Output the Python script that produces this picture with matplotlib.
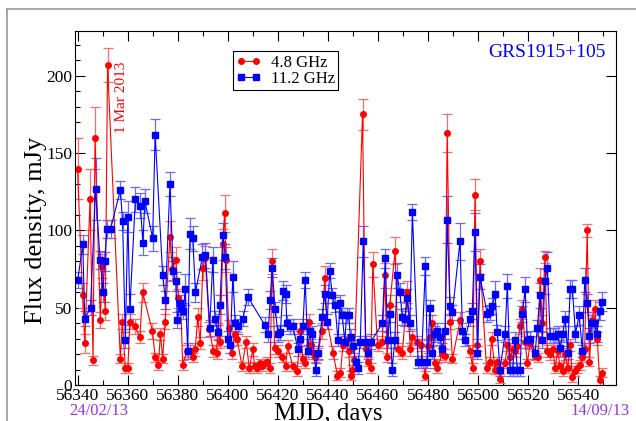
import numpy as np
from matplotlib import pyplot as plt
from matplotlib.ticker import MultipleLocator
from matplotlib.lines import Line2D

plt.rcParams['font.family'] = ['Liberation Serif', 'DejaVu Serif']

# 4.8 GHz  (MJD, flux in mJy, error)
mjd_48 = [56340.0, 56342.0, 56342.9, 56345.0, 56346.2, 56347.0, 56349.1, 56349.9, 56351.1, 56352.0,
          56357.1, 56357.9, 56359.1, 56360.1, 56360.9, 56362.9, 56364.9, 56366.0, 56369.9, 56371.0,
          56372.3, 56373.1, 56374.0, 56375.0, 56376.9, 56377.9, 56379.2, 56380.3, 56381.2, 56382.0,
          56383.7, 56384.9, 56386.0, 56387.0, 56388.0, 56389.0, 56390.0, 56391.0, 56392.7, 56394.2,
          56395.5, 56396.0, 56397.0, 56398.0, 56398.7, 56399.3, 56400.4, 56401.6, 56402.7, 56403.7,
          56405.7, 56407.3, 56408.6, 56410.0, 56410.7, 56411.7, 56412.7, 56413.6, 56414.7, 56415.6,
          56416.9, 56417.7, 56418.7, 56420.0, 56421.7, 56423.1, 56423.9, 56426.0, 56427.7, 56429.0,
          56430.0, 56431.0, 56432.3, 56433.2, 56433.9, 56434.9, 56436.0, 56437.6, 56438.7, 56439.7,
          56442.0, 56443.8, 56445.0, 56446.0, 56447.4, 56448.2, 56449.0, 56449.7, 56450.5, 56453.8,
          56455.0, 56455.8, 56457.1, 56457.9, 56459.8, 56461.7, 56462.7, 56463.6, 56464.7, 56466.8,
          56468.0, 56469.7, 56471.6, 56472.9, 56473.7, 56475.7, 56477.0, 56478.8, 56480.0, 56480.9,
          56481.7, 56482.7, 56483.7, 56485.6, 56486.7, 56487.6, 56488.8, 56489.7, 56492.8, 56496.7,
          56497.8, 56498.7, 56499.7, 56500.7, 56503.3, 56504.7, 56505.3, 56506.7, 56507.6, 56508.7,
          56510.7, 56511.6, 56512.7, 56513.7, 56514.7, 56515.6, 56516.7, 56517.6, 56518.7, 56519.6,
          56520.7, 56522.7, 56523.8, 56524.7, 56525.6, 56526.6, 56527.6, 56528.7, 56529.7, 56530.7,
          56531.7, 56532.7, 56533.7, 56534.7, 56535.7, 56536.7, 56537.6, 56538.7, 56539.6, 56540.7,
          56541.6, 56542.5, 56543.5, 56544.4, 56545.4, 56546.5, 56547.5, 56548.5, 56549.6]
flux_48 = [140, 58, 27, 120, 16, 160, 42, 77, 48, 207,
           17, 41, 11, 11, 41, 38, 31, 60, 35, 18,
           13, 33, 17, 41, 96, 75, 81, 56, 52, 13,
           22, 22, 18, 23, 44, 27, 76, 82, 36, 22,
           21, 35, 28, 91, 111, 81, 37, 21, 33, 30,
           12, 28, 11, 23, 12, 11, 14, 12, 14, 15,
           11, 80, 24, 22, 18, 12, 25, 12, 9, 35,
           17, 14, 41, 26, 21, 18, 20, 35, 69, 41,
           21, 6, 8, 26, 29, 22, 6, 10, 16, 175,
           23, 15, 11, 78, 26, 28, 71, 18, 52, 87,
           23, 21, 60, 23, 31, 28, 26, 6, 25, 31,
           40, 14, 11, 20, 19, 163, 41, 17, 42, 22,
           11, 123, 26, 80, 11, 15, 30, 10, 15, 4,
           14, 26, 18, 23, 22, 25, 38, 49, 28, 14,
           27, 19, 18, 68, 40, 83, 22, 20, 23, 11,
           22, 12, 9, 20, 11, 26, 5, 9, 11, 13,
           18, 23, 100, 15, 42, 49, 30, 3, 8]
err_48 = [20, 8, 6, 20, 3, 20, 5, 8, 6, 11,
          3, 5, 3, 3, 5, 5, 4, 6, 5, 3,
          3, 4, 3, 5, 10, 8, 8, 6, 6, 3,
          4, 4, 3, 4, 6, 4, 8, 8, 5, 4,
          4, 5, 4, 10, 12, 8, 5, 4, 5, 4,
          3, 4, 3, 4, 3, 3, 3, 3, 3, 3,
          3, 8, 4, 4, 3, 3, 4, 3, 3, 5,
          3, 3, 5, 4, 4, 3, 4, 5, 8, 5,
          4, 3, 3, 4, 4, 4, 3, 3, 3, 10,
          4, 3, 3, 8, 4, 4, 8, 3, 6, 9,
          4, 4, 7, 4, 5, 4, 4, 3, 4, 5,
          5, 3, 3, 4, 4, 12, 5, 3, 5, 4,
          3, 10, 4, 8, 3, 3, 4, 3, 3, 3,
          3, 4, 3, 4, 4, 4, 5, 6, 4, 3,
          4, 3, 3, 8, 5, 4, 4, 4, 4, 3,
          4, 3, 3, 4, 3, 4, 3, 3, 3, 3,
          3, 4, 4, 3, 5, 6, 4, 3, 3]

# 11.2 GHz
mjd_112 = [56340.1, 56342.1, 56342.9, 56345.2, 56347.2, 56349.0, 56350.2, 56350.8, 56351.8, 56353.2,
           56357.1, 56358.0, 56359.1, 56360.1, 56360.9, 56363.1, 56365.1, 56366.1, 56366.9, 56370.0,
           56371.0, 56374.0, 56375.1, 56376.9, 56378.2, 56379.2, 56379.9, 56380.8, 56381.5, 56382.3,
           56383.0, 56384.0, 56384.9, 56386.0, 56387.1, 56389.9, 56391.1, 56392.8, 56394.0, 56394.9,
           56396.0, 56396.9, 56398.0, 56399.0, 56400.0, 56401.0, 56402.0, 56403.0, 56404.0, 56406.0,
           56408.0, 56414.7, 56416.1, 56416.9, 56417.7, 56418.9, 56420.1, 56421.0, 56422.0, 56423.1,
           56423.6, 56425.0, 56426.0, 56428.0, 56429.0, 56430.0, 56430.9, 56432.0, 56432.7, 56433.7,
           56435.1, 56436.0, 56437.7, 56438.7, 56439.7, 56440.7, 56441.7, 56442.8, 56444.0, 56444.8,
           56445.7, 56446.7, 56447.4, 56448.2, 56449.0, 56450.0, 56451.1, 56451.9, 56452.9, 56454.1,
           56455.1, 56455.8, 56457.2, 56461.7, 56462.9, 56463.8, 56464.7, 56465.6, 56466.7, 56467.6,
           56468.7, 56469.7, 56470.7, 56471.7, 56472.7, 56473.7, 56476.0, 56477.3, 56478.9, 56479.7,
           56480.7, 56481.7, 56482.7, 56483.7, 56484.7, 56485.7, 56486.8, 56487.6, 56488.7, 56489.7,
           56492.7, 56493.7, 56494.7, 56496.7, 56497.6, 56498.7, 56499.7, 56500.7, 56503.6, 56504.7,
           56505.6, 56506.7, 56507.6, 56508.7, 56510.7, 56511.6, 56512.7, 56513.7, 56514.7, 56515.6,
           56516.7, 56517.6, 56518.7, 56519.6, 56520.7, 56522.7, 56523.6, 56524.6, 56525.6, 56526.6,
           56527.6, 56528.7, 56529.7, 56530.7, 56531.7, 56532.7, 56533.7, 56534.7, 56535.7, 56536.7,
           56537.6, 56538.8, 56540.3, 56541.6, 56542.5, 56543.5, 56544.4, 56545.4, 56546.4, 56547.3,
           56548.7, 56549.6]
flux_112 = [68, 91, 43, 50, 127, 81, 60, 80, 101, 101,
            126, 106, 29, 109, 49, 120, 116, 92, 119, 95,
            162, 71, 55, 130, 74, 67, 42, 53, 50, 48,
            62, 22, 98, 95, 60, 83, 84, 37, 81, 43,
            34, 52, 97, 83, 30, 26, 70, 40, 38, 43,
            57, 39, 33, 55, 76, 49, 33, 34, 61, 59,
            40, 38, 38, 23, 30, 38, 68, 22, 35, 33,
            10, 21, 44, 59, 41, 74, 58, 52, 29, 53,
            45, 28, 45, 45, 31, 25, 15, 11, 28, 93,
            28, 21, 28, 40, 82, 29, 46, 10, 29, 71,
            60, 44, 43, 56, 40, 112, 15, 15, 77, 15,
            50, 21, 33, 35, 31, 23, 35, 107, 51, 47,
            93, 35, 29, 43, 48, 99, 21, 70, 46, 47,
            51, 59, 34, 10, 33, 64, 10, 10, 29, 10,
            10, 46, 62, 29, 30, 21, 37, 58, 29, 67,
            76, 32, 32, 32, 33, 24, 33, 43, 21, 62,
            62, 33, 45, 22, 68, 53, 32, 40, 40, 33,
            48, 54]
err_112 = [5, 6, 5, 5, 20, 6, 6, 6, 6, 6,
           6, 6, 5, 10, 10, 8, 8, 8, 8, 8,
           10, 6, 6, 8, 6, 6, 5, 5, 5, 5,
           10, 5, 10, 8, 6, 8, 8, 5, 8, 5,
           5, 6, 8, 8, 5, 5, 10, 5, 5, 5,
           5, 5, 5, 6, 6, 5, 5, 5, 6, 6,
           5, 5, 5, 4, 5, 5, 5, 4, 5, 5,
           4, 4, 5, 6, 5, 5, 5, 5, 4, 5,
           5, 4, 5, 5, 5, 4, 4, 4, 4, 10,
           4, 4, 5, 5, 6, 5, 5, 4, 5, 8,
           6, 5, 5, 6, 5, 5, 4, 4, 6, 4,
           5, 4, 5, 5, 5, 4, 5, 15, 6, 5,
           12, 5, 4, 5, 5, 12, 4, 8, 5, 5,
           5, 8, 5, 4, 5, 8, 4, 4, 5, 4,
           4, 5, 8, 5, 5, 4, 5, 8, 5, 8,
           10, 5, 5, 5, 5, 5, 5, 5, 4, 6,
           6, 5, 6, 4, 8, 6, 5, 5, 5, 5,
           6, 6]

fig = plt.figure(figsize=(6.36, 4.21), dpi=100)
ax = fig.add_axes([75 / 636, 36 / 421, 541 / 636, 354 / 421])

# error bars (lighter), then the lines with markers
ax.errorbar(mjd_48, flux_48, yerr=err_48, fmt='none', ecolor='#ff6a6a', elinewidth=0.9, capsize=3.5, capthick=0.9)
ax.errorbar(mjd_112, flux_112, yerr=err_112, fmt='none', ecolor='#6a6aff', elinewidth=0.9, capsize=3.5, capthick=0.9)
ax.plot(mjd_48, flux_48, '-o', color='#ff0000', lw=0.8, ms=4, label='4.8 GHz')
ax.plot(mjd_112, flux_112, '-s', color='#0000ff', lw=0.8, ms=4.5, label='11.2 GHz')

ax.set_xlim(56339, 56555)
ax.set_ylim(0, 229)
ax.xaxis.set_major_locator(MultipleLocator(20))
ax.xaxis.set_minor_locator(MultipleLocator(10))
ax.yaxis.set_major_locator(MultipleLocator(50))
ax.yaxis.set_minor_locator(MultipleLocator(10))
ax.tick_params(which='both', direction='in', top=True, right=True, labelsize=12.5, pad=2)
ax.tick_params(which='major', length=7, width=0.8)
ax.tick_params(which='minor', length=3.5, width=0.8, right=False)

# axis titles placed by hand, as in the screenshot (x title is clipped at the bottom)
fig.text(328 / 636, 1 - 420 / 421, 'MJD, days', fontsize=18, ha='center', va='baseline')
fig.text(36 / 636, 1 - 230 / 421, 'Flux density, mJy', fontsize=19, rotation=90, ha='center', va='center')

leg = ax.legend(loc='upper left', bbox_to_anchor=(0.2915, 0.943), borderaxespad=0, fontsize=12,
                numpoints=2, handlelength=1.5, handletextpad=0.6, labelspacing=0.0, borderpad=0.2,
                fancybox=False, framealpha=1, edgecolor='black')
leg.get_frame().set_linewidth(0.8)

ax.text(0.98, 0.94, 'GRS1915+105', color='#0000ff', fontsize=14, ha='right', va='center', transform=ax.transAxes)
ax.text(56357.4, 186, '1 Mar 2013', color='#ff0000', fontsize=11, rotation=90, ha='center', va='center')

fig.text(98.8 / 636, 1 - 411 / 421, '24/02/13', color='#9933dd', fontsize=12, ha='center', va='center')
fig.text(600 / 636, 1 - 411 / 421, '14/09/13', color='#9933dd', fontsize=12, ha='center', va='center')

# grey frame of the screenshot
fig.add_artist(Line2D([7 / 636, 1], [1 - 9 / 421, 1 - 9 / 421], color='#999999', lw=1.2, transform=fig.transFigure))
fig.add_artist(Line2D([7 / 636, 7 / 636], [0, 1 - 9 / 421], color='#999999', lw=1.2, transform=fig.transFigure))

fig.savefig('out.png', dpi=100)
